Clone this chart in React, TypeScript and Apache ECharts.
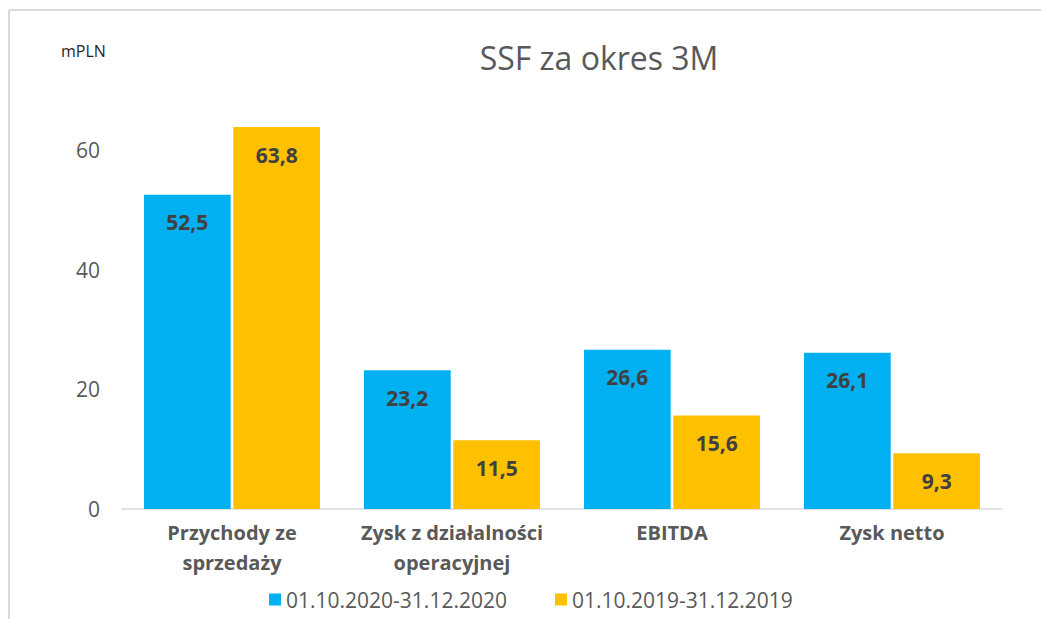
import React, { useEffect, useRef } from "react";
import * as echarts from "echarts";

const categories = ["Przychody ze\nsprzedaży", "Zysk z działalności\noperacyjnej", "EBITDA", "Zysk netto"];
const series2020 = [52.5, 23.2, 26.6, 26.1];
const series2019 = [63.8, 11.5, 15.6, 9.3];
const seriesNames = ["01.10.2020-31.12.2020", "01.10.2019-31.12.2019"];
const yTicks = [0, 20, 40, 60];

const FONT = "'Open Sans', sans-serif";

export default function App() {
  const ref = useRef<HTMLDivElement>(null);
  useEffect(() => {
    document.body.style.margin = "0";
    const chart = echarts.init(ref.current!, null, { renderer: "svg" });
    const label = {
      show: true,
      position: "insideTop",
      distance: 17,
      color: "#404040",
      fontWeight: "bold",
      fontSize: 21,
      fontFamily: FONT,
      formatter: (p: any) => String(p.value).replace(".", ","),
    };
    chart.setOption({
      animation: false,
      backgroundColor: "#fff",
      textStyle: { fontFamily: FONT },
      title: {
        text: "SSF za okres 3M",
        left: 594,
        textAlign: "center",
        top: 36,
        textStyle: { fontSize: 32, fontWeight: "normal", color: "#595959", fontFamily: FONT },
      },
      graphic: [
        { type: "line", shape: { x1: 9, y1: 10, x2: 1041, y2: 10 }, style: { stroke: "#d9d9d9", lineWidth: 2 } },
        { type: "line", shape: { x1: 9, y1: 10, x2: 9, y2: 619 }, style: { stroke: "#d9d9d9", lineWidth: 2 } },
        {
          type: "text",
          left: 61,
          top: 43,
          style: { text: "mPLN", fontSize: 16, fill: "#262626", fontFamily: FONT },
        },
      ],
      legend: {
        data: seriesNames,
        bottom: 4,
        left: 264,
        itemWidth: 12,
        itemHeight: 12,
        itemGap: 48,
        icon: "rect",
        textStyle: { fontSize: 21, color: "#595959", fontFamily: FONT },
      },
      grid: { left: 122, right: 39, top: 90, bottom: 110 },
      xAxis: {
        type: "category",
        data: categories,
        axisLine: { lineStyle: { color: "#d9d9d9", width: 1.5 } },
        axisTick: { show: false },
        axisLabel: {
          interval: 0,
          hideOverlap: false,
          color: "#595959",
          fontWeight: "bold",
          fontSize: 20,
          lineHeight: 30,
          margin: 8,
          fontFamily: FONT,
        },
      },
      yAxis: {
        type: "value",
        min: 0,
        max: 70,
        interval: 20,
        splitLine: { show: false },
        axisLine: { show: false },
        axisTick: { show: false },
        axisLabel: {
          color: "#595959",
          fontSize: 21,
          margin: 22,
          fontFamily: FONT,
          showMaxLabel: false,
          formatter: (v: number) => (yTicks.includes(v) ? String(v) : ""),
        },
      },
      series: [
        {
          name: seriesNames[0],
          type: "bar",
          data: series2020,
          itemStyle: { color: "#00B0F0" },
          barGap: "3%",
          barCategoryGap: "20%",
          label,
        },
        {
          name: seriesNames[1],
          type: "bar",
          data: series2019,
          itemStyle: { color: "#FFC000" },
          label,
        },
      ],
    });
    return () => chart.dispose();
  }, []);
  return <div ref={ref} style={{ width: 1041, height: 619 }} />;
}
